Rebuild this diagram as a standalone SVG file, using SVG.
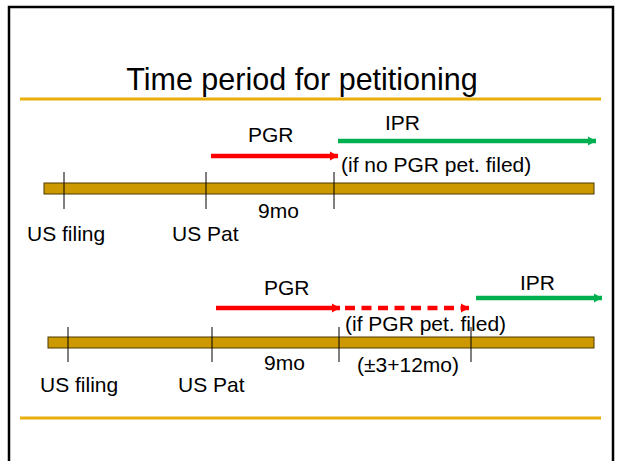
<svg xmlns="http://www.w3.org/2000/svg" width="618" height="461" viewBox="0 0 618 461">
<style>
.t{font-family:"Liberation Sans",Arial,sans-serif;fill:#000;}
.lbl{font-size:21px;}
.bar{fill:#CC9900;stroke:#4d3a00;stroke-width:1;}
.tick{stroke:#000;stroke-width:1;}
.gold{stroke:#E8AE0C;stroke-width:3;}
.red{stroke:#FF0000;stroke-width:4.5;fill:none;}
.green{stroke:#00B050;stroke-width:4.5;fill:none;}
</style>
<defs>
<marker id="ar" markerUnits="userSpaceOnUse" markerWidth="10" markerHeight="10" refX="8" refY="5" orient="auto"><path d="M0,0.5 L8,5 L0,9.5 Z" fill="#FF0000"/></marker>
<marker id="ag" markerUnits="userSpaceOnUse" markerWidth="10" markerHeight="10" refX="8" refY="5" orient="auto"><path d="M0,0.5 L8,5 L0,9.5 Z" fill="#00B050"/></marker>
</defs>
<rect x="0" y="0" width="618" height="461" fill="#fff"/>
<rect x="9" y="7" width="604" height="462" fill="none" stroke="#000" stroke-width="2.5"/>
<g id="title"><text class="t" x="302" y="90" font-size="30.5" text-anchor="middle">Time period for petitioning</text></g>
<line class="gold" x1="20" y1="99" x2="601" y2="99"/>
<line class="gold" x1="20" y1="418" x2="601" y2="418"/>

<g id="timeline1">
<rect class="bar" x="44" y="183" width="550" height="11"/>
<line class="tick" x1="64" y1="172" x2="64" y2="209"/>
<line class="tick" x1="206" y1="172" x2="206" y2="209"/>
<line class="tick" x1="334" y1="172" x2="334" y2="209"/>
<text class="t lbl" x="27" y="241">US filing</text>
<text class="t lbl" x="172" y="241">US Pat</text>
<text class="t lbl" x="258" y="218">9mo</text>
</g>
<g id="timeline2">
<rect class="bar" x="48" y="337" width="546" height="11"/>
<line class="tick" x1="68" y1="327" x2="68" y2="362"/>
<line class="tick" x1="212" y1="327" x2="212" y2="362"/>
<line class="tick" x1="339" y1="327" x2="339" y2="362"/>
<line class="tick" x1="471" y1="327" x2="471" y2="362"/>
<text class="t lbl" x="40" y="392">US filing</text>
<text class="t lbl" x="178" y="392">US Pat</text>
<text class="t lbl" x="264" y="370">9mo</text>
<text class="t lbl" x="357" y="372">(±3+12mo)</text>
</g>
<g id="labels">
<text class="t lbl" x="248" y="142">PGR</text>
<text class="t lbl" x="385" y="130">IPR</text>
<text class="t lbl" x="341" y="172">(if no PGR pet. filed)</text>
<text class="t lbl" x="264" y="295">PGR</text>
<text class="t lbl" x="520" y="290">IPR</text>
<text class="t lbl" x="345" y="331">(if PGR pet. filed)</text>
</g>
<g id="connectors">
<line class="red" x1="211" y1="156" x2="338" y2="156" marker-end="url(#ar)"/>
<line class="green" x1="338" y1="141" x2="596" y2="141" marker-end="url(#ag)"/>
<line class="red" x1="216" y1="308" x2="340" y2="308" marker-end="url(#ar)"/>
<line class="red" x1="345" y1="308" x2="469" y2="308" stroke-dasharray="10,6.5" marker-end="url(#ar)"/>
<line class="green" x1="476" y1="298" x2="602" y2="298" marker-end="url(#ag)"/>
</g>
</svg>
